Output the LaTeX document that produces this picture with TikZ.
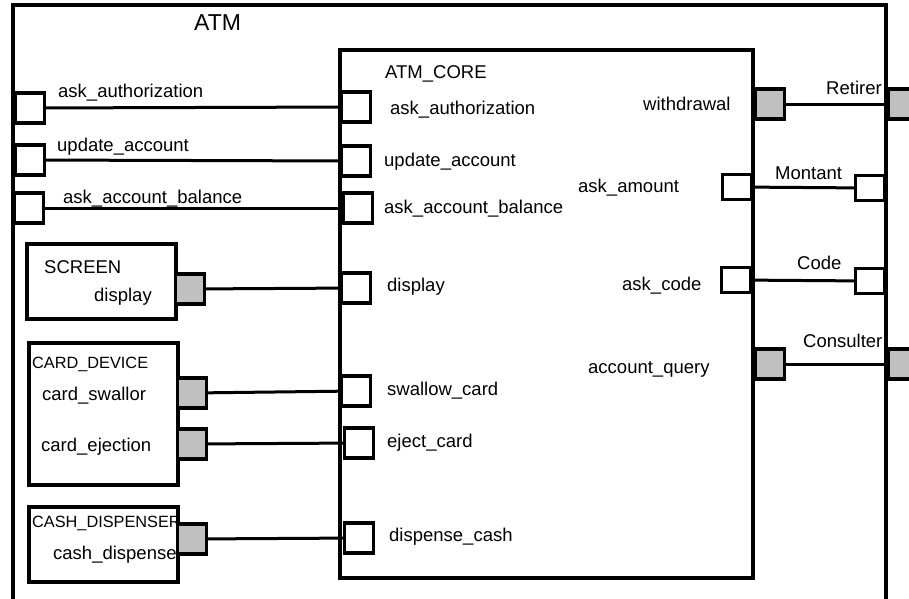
\documentclass[tikz,border=0pt]{standalone}
\usepackage{fontspec}
\setmainfont{Liberation Sans}
\definecolor{portgray}{RGB}{192,192,192}

\begin{document}
\begin{tikzpicture}[x=1pt,y=-1pt]

\useasboundingbox (0,0) rectangle (909,598);
\tikzset{block/.style = {draw, line width=3.2pt}}
\tikzset{port/.style = {shape=rectangle, draw, fill=white, line width=3.2pt, minimum width=29pt, minimum height=30pt, inner sep=0pt}}
\tikzset{gport/.style = {port, fill=portgray}}
\tikzset{flat/.style = {minimum height=25pt}}
\tikzset{txt/.style = {anchor=base west, inner sep=0pt, font=\fontsize{18.5}{20}\selectfont}}
\tikzset{smalltxt/.style = {txt, font=\fontsize{16.3}{18}\selectfont}}
\tikzset{edge/.style = {line width=3pt}}
% blocks
\draw[block] (13,5) rectangle (886,620);
\draw[block] (340,50) rectangle (753,578);
\draw[block] (27,244) rectangle (176,319);
\draw[block] (29,343) rectangle (178,485);
\draw[block] (29,507) rectangle (178,582);
% texts
\node[txt, font=\fontsize{23}{26}\selectfont] (tATM) at (194,30) {ATM};
\node[txt] (tCore) at (385,78) {ATM\_CORE};
\node[txt] (tAuthL) at (58,97) {ask\_authorization};
\node[txt] (tUpdL) at (57,151) {update\_account};
\node[txt] (tBalL) at (63,203) {ask\_account\_balance};
\node[txt] (tAuthC) at (390,114) {ask\_authorization};
\node[txt] (tUpdC) at (384,166) {update\_account};
\node[txt] (tBalC) at (384,213) {ask\_account\_balance};
\node[txt] (tScreen) at (44,273) {SCREEN};
\node[txt] (tDispS) at (94,301) {display};
\node[txt] (tDispC) at (387,291) {display};
\node[smalltxt] (tCard) at (32,368) {CARD\_DEVICE};
\node[txt] (tSwalD) at (42,400) {card\_swallor};
\node[txt] (tEjD) at (41,451) {card\_ejection};
\node[txt] (tSwalC) at (387,395) {swallow\_card};
\node[txt] (tEjC) at (387,447) {eject\_card};
\node[smalltxt] (tCash) at (32,527) {CASH\_DISPENSER};
\node[txt] (tCashD) at (53,559) {cash\_dispense};
\node[txt] (tCashC) at (389,541) {dispense\_cash};
\node[txt] (tWd) at (643,110) {withdrawal};
\node[txt] (tRet) at (826,94) {Retirer};
\node[txt] (tAmt) at (578,192) {ask\_amount};
\node[txt] (tMont) at (775,179) {Montant};
\node[txt] (tCode) at (622,290) {ask\_code};
\node[txt] (tCodeA) at (797,269) {Code};
\node[txt] (tQry) at (588,373) {account\_query};
\node[txt] (tCons) at (803,347) {Consulter};
% ports
\node[port] (pAuthL) at (30,108) {};
\node[port] (pUpdL) at (30,160) {};
\node[port] (pBalL) at (29,208) {};
\node[port] (pAuthC) at (356,107) {};
\node[port] (pUpdC) at (356,161) {};
\node[port] (pBalC) at (358,208) {};
\node[gport] (pDispS) at (190,289) {};
\node[port] (pDispC) at (356,288) {};
\node[gport] (pSwalD) at (192,393) {};
\node[port] (pSwalC) at (356,391) {};
\node[gport] (pEjD) at (192,444) {};
\node[port] (pEjC) at (359,443) {};
\node[gport] (pCashD) at (192,539) {};
\node[port] (pCashC) at (359,538) {};
\node[gport] (pWdC) at (770,104) {};
\node[gport] (pWdA) at (903,104) {};
\node[port, flat] (pAmtC) at (737,187) {};
\node[port, flat] (pAmtA) at (870,188) {};
\node[port, flat] (pCodeC) at (736,280) {};
\node[port, flat] (pCodeA) at (870,281) {};
\node[gport] (pQryC) at (770,364) {};
\node[gport] (pQryA) at (903,364) {};
%edges
\draw[edge] (pAuthL) -- (pAuthC);
\draw[edge] (pUpdL) -- (pUpdC);
\draw[edge] (pBalL) -- (pBalC);
\draw[edge] (pDispS) -- (pDispC);
\draw[edge] (pSwalD) -- (pSwalC);
\draw[edge] (pEjD) -- (pEjC);
\draw[edge] (pCashD) -- (pCashC);
\draw[edge] (pWdC) -- (pWdA);
\draw[edge] (pAmtC) -- (pAmtA);
\draw[edge] (pCodeC) -- (pCodeA);
\draw[edge] (pQryC) -- (pQryA);

\end{tikzpicture}
\end{document}
